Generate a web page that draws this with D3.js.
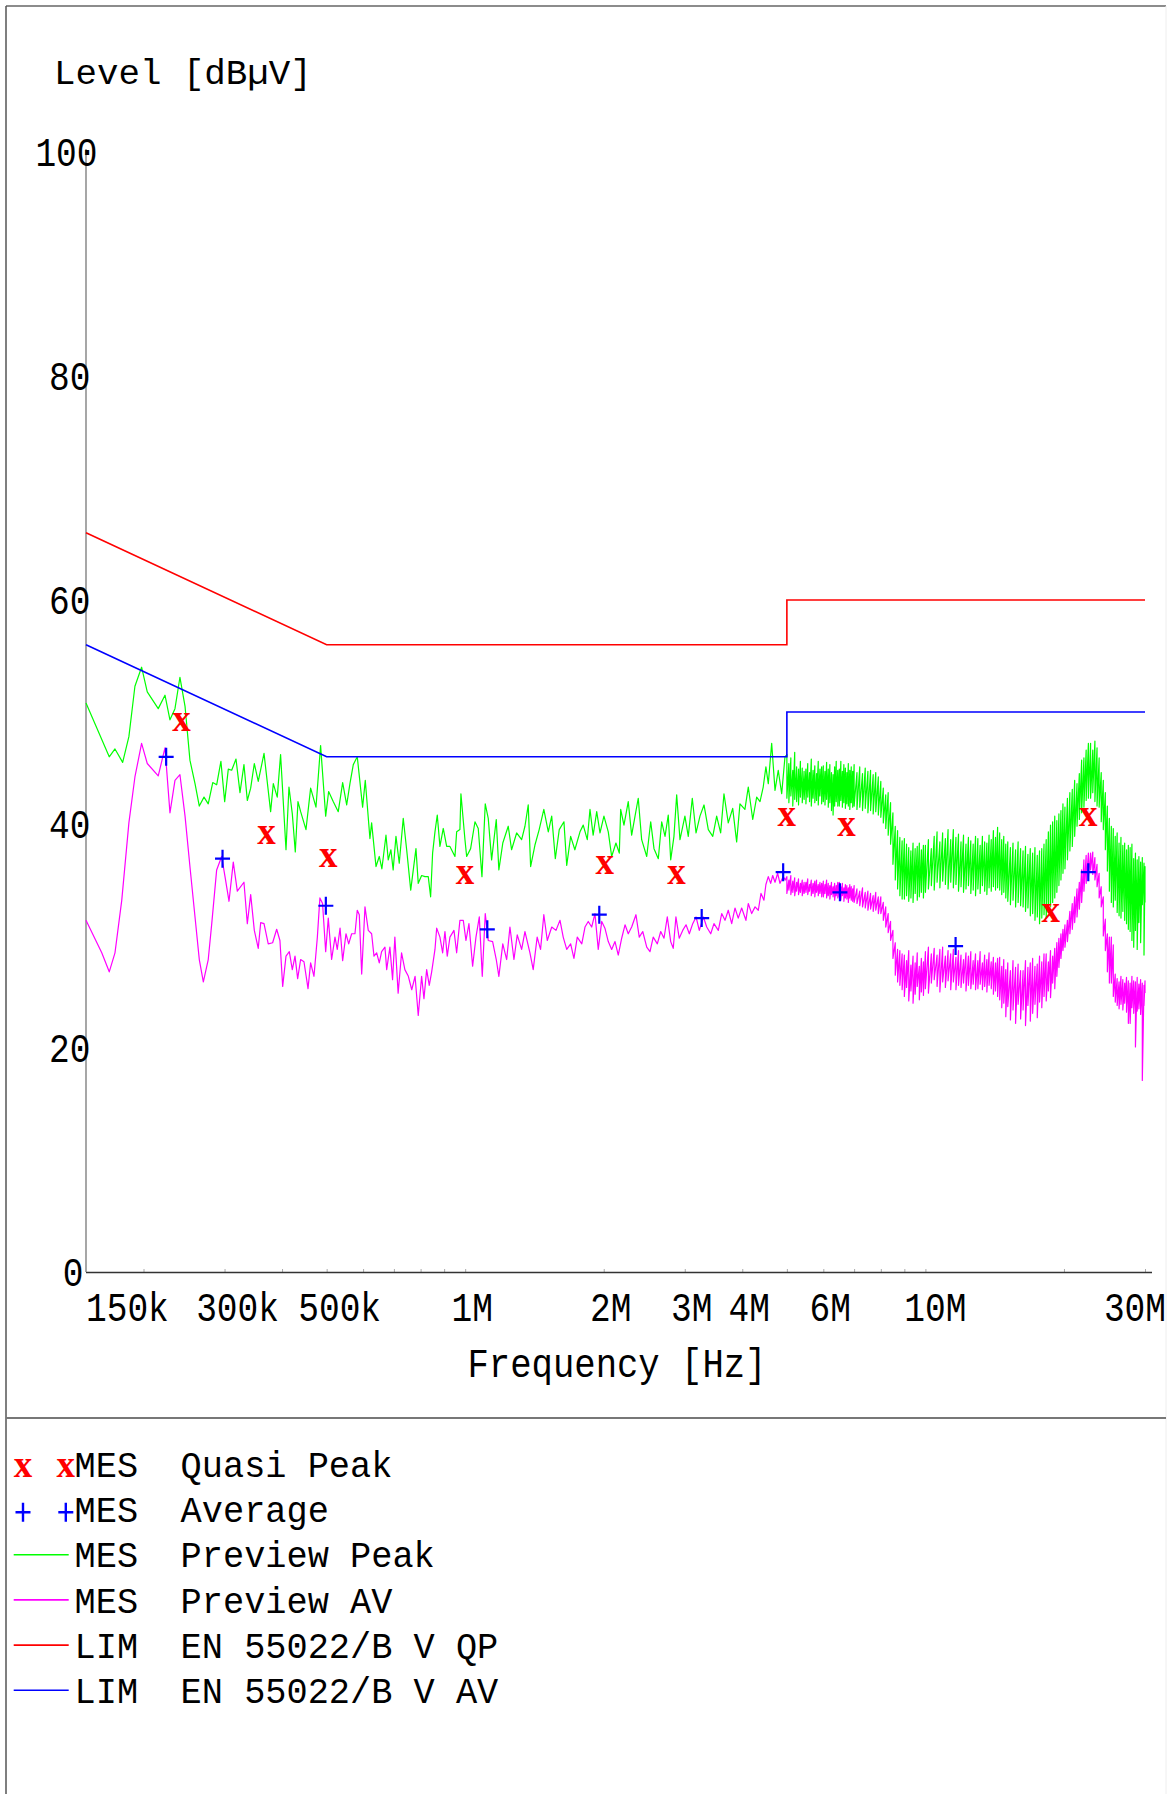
<!DOCTYPE html>
<html><head><meta charset="utf-8">
<script src="https://cdn.jsdelivr.net/npm/d3@7"></script>
<style>
html,body{margin:0;padding:0;background:#fff;}
svg{display:block;}
</style></head>
<body>
<svg id="chart" width="1173" height="1794"></svg>
<script>
// ---------- data ----------
const xTickValues = [0.15, 0.3, 0.5, 1, 2, 3, 4, 6, 10, 30];
const xTickLabels = ["150k", "300k", "500k", "1M", "2M", "3M", "4M", "6M", "10M", "30M"];
const yTickValues = [0, 20, 40, 60, 80, 100];
const minorTicks = [0.2,0.3,0.4,0.5,0.6,0.7,0.8,0.9,1,2,3,4,5,6,7,8,9,10,20,30];

const limitFreq = [0.15, 0.5, 5, 5, 30];
const limitQP = [66, 56, 56, 60, 60];
const limitAV = [56, 46, 46, 50, 50];

const qpFreq = [0.242, 0.370, 0.504, 0.999, 2.01, 2.88, 4.995, 6.74, 18.71, 22.59];
const qpLevel = [49.1, 39.0, 36.9, 35.4, 36.3, 35.4, 40.6, 39.7, 32.0, 40.6];
const avFreq = [0.224, 0.297, 0.498, 1.117, 1.956, 3.265, 4.908, 6.52, 11.63, 22.59];
const avLevel = [46.0, 36.9, 32.7, 30.6, 31.9, 31.6, 35.7, 33.9, 29.1, 35.7];

// Preview Peak, 150 kHz - 5 MHz  [MHz, dBuV]
const peakLow = [[0.150,50.8],[0.1685,46.0],[0.1734,46.7],[0.1802,45.5],[0.1859,47.8],[0.1916,52.3],[0.1981,54.0],[0.2038,51.8],[0.2153,50.3],[0.2227,51.5],[0.2283,49.3],[0.2341,50.3],[0.2400,53.1],[0.2462,50.5],[0.2523,45.7],[0.2588,43.6],[0.2644,41.6],[0.2707,42.4],[0.2765,41.8],[0.2828,43.7],[0.2884,43.5],[0.2946,45.6],[0.3002,42.0],[0.3057,44.9],[0.3109,44.8],[0.3177,45.8],[0.3241,42.8],[0.3306,45.3],[0.3362,42.1],[0.3419,43.2],[0.3482,45.4],[0.3551,43.8],[0.3655,46.3],[0.3778,41.1],[0.3829,43.6],[0.3905,42.4],[0.3971,46.2],[0.4080,37.7],[0.4141,43.3],[0.4211,40.9],[0.4274,37.5],[0.4332,42.0],[0.4390,41.1],[0.4509,39.5],[0.4615,43.2],[0.4740,41.5],[0.4851,47.0],[0.4976,40.7],[0.5050,42.9],[0.5167,42.0],[0.5299,41.1],[0.5417,43.7],[0.5527,41.7],[0.5618,43.6],[0.5713,45.3],[0.5828,46.0],[0.5986,41.5],[0.6066,43.9],[0.6209,38.7],[0.6262,40.1],[0.6400,36.2],[0.6506,37.1],[0.6592,36.0],[0.6728,39.0],[0.6805,36.8],[0.6896,37.7],[0.6974,35.9],[0.7073,38.9],[0.7190,36.5],[0.7335,40.5],[0.7462,37.7],[0.7615,34.1],[0.7817,37.8],[0.7907,34.7],[0.8042,35.4],[0.8177,35.3],[0.8313,35.3],[0.8412,33.5],[0.8496,37.4],[0.8597,39.3],[0.8696,40.8],[0.8813,38.0],[0.8961,39.6],[0.9115,38.0],[0.9265,38.0],[0.9501,37.1],[0.9582,39.3],[0.9740,39.5],[0.9789,42.7],[0.9989,38.6],[1.0074,37.1],[1.0276,37.8],[1.0502,40.2],[1.0675,39.6],[1.0875,35.3],[1.1056,41.8],[1.1223,40.5],[1.1414,36.8],[1.1682,40.4],[1.1835,35.9],[1.2070,38.3],[1.2404,39.8],[1.2613,37.7],[1.2936,39.2],[1.3263,38.6],[1.3485,39.8],[1.3709,41.7],[1.3873,36.2],[1.4173,38.1],[1.4480,39.5],[1.4821,41.3],[1.5156,39.3],[1.5417,40.7],[1.5698,36.9],[1.601,39.5],[1.639,40.2],[1.662,36.3],[1.695,38.9],[1.731,37.7],[1.776,39.3],[1.805,39.9],[1.842,38.6],[1.867,41.3],[1.897,39.0],[1.931,41.1],[1.963,39.2],[2.002,40.7],[2.046,39.3],[2.081,37.1],[2.126,38.3],[2.162,37.4],[2.177,41.3],[2.213,39.9],[2.261,42.0],[2.300,39.0],[2.339,40.7],[2.377,42.3],[2.418,38.6],[2.480,37.1],[2.530,40.2],[2.572,37.8],[2.628,36.9],[2.673,40.2],[2.718,38.9],[2.762,40.8],[2.796,36.8],[2.842,38.9],[2.881,42.6],[2.929,38.6],[3.002,40.7],[3.053,38.9],[3.115,42.3],[3.174,39.2],[3.237,40.7],[3.303,41.7],[3.375,39.5],[3.451,38.9],[3.519,40.7],[3.590,39.2],[3.650,42.7],[3.729,40.1],[3.813,41.4],[3.889,38.4],[3.954,41.8],[4.053,41.3],[4.122,43.3],[4.215,40.4],[4.299,42.4],[4.371,42.0],[4.442,43.3],[4.502,45.1],[4.556,43.6],[4.634,47.2],[4.712,43.0],[4.789,44.8],[4.872,42.7],[4.953,46.0]];

// Preview AV, 150 kHz - 5 MHz  [MHz, dBuV]
const avLow = [[0.150,31.4],[0.1623,28.5],[0.1685,26.8],[0.1734,28.5],[0.1794,33.2],[0.1859,40.1],[0.1916,44.2],[0.1981,47.2],[0.2038,45.4],[0.2153,44.3],[0.2227,46.8],[0.2283,41.0],[0.2341,43.9],[0.2400,44.4],[0.2462,40.7],[0.2523,36.2],[0.2588,31.7],[0.2644,27.9],[0.2698,25.9],[0.2765,27.9],[0.2814,31.1],[0.2884,35.9],[0.2957,37.1],[0.3007,35.3],[0.3068,33.1],[0.3134,36.6],[0.3198,34.0],[0.3306,34.8],[0.3362,31.1],[0.3419,33.7],[0.3482,30.5],[0.3551,28.9],[0.3595,31.2],[0.3655,31.1],[0.3733,29.3],[0.3816,29.4],[0.3894,30.6],[0.3958,29.6],[0.4013,25.5],[0.4080,28.2],[0.4148,28.6],[0.4211,27.0],[0.4268,28.2],[0.4325,26.2],[0.4390,27.9],[0.4464,27.7],[0.4555,25.3],[0.4615,27.6],[0.4693,26.4],[0.4773,29.9],[0.4834,33.4],[0.4899,32.9],[0.4976,28.6],[0.5041,31.6],[0.5126,27.9],[0.5213,29.9],[0.5273,28.8],[0.5347,30.7],[0.5417,27.8],[0.5508,30.2],[0.5583,29.3],[0.5667,30.2],[0.5761,30.2],[0.5828,32.3],[0.5887,31.9],[0.5958,26.6],[0.6057,32.6],[0.6158,30.5],[0.6262,30.2],[0.6336,28.2],[0.6422,28.5],[0.6506,27.6],[0.6583,28.6],[0.6694,29.0],[0.6752,27.0],[0.6862,29.0],[0.6954,26.1],[0.7034,29.9],[0.7150,24.9],[0.7274,28.5],[0.7395,27.0],[0.7525,26.4],[0.7654,25.2],[0.7782,26.4],[0.7907,22.9],[0.8042,26.4],[0.8136,24.4],[0.8247,27.0],[0.8355,25.6],[0.8456,26.8],[0.8597,28.8],[0.8671,30.7],[0.8813,29.9],[0.8934,28.5],[0.9037,30.4],[0.9142,28.2],[0.9265,29.9],[0.9454,30.5],[0.9582,28.5],[0.9740,31.4],[0.9905,31.4],[1.0039,29.6],[1.0190,31.1],[1.0379,27.3],[1.0554,29.9],[1.0732,31.7],[1.0892,26.4],[1.1056,32.0],[1.1223,29.6],[1.1471,29.5],[1.1682,27.9],[1.1835,26.4],[1.2070,29.3],[1.2306,27.9],[1.2510,30.8],[1.2763,27.9],[1.2975,30.1],[1.3263,28.8],[1.3485,30.4],[1.3826,28.5],[1.4054,27.0],[1.4335,29.9],[1.4580,28.8],[1.4821,31.9],[1.508,29.6],[1.542,30.8],[1.575,30.5],[1.607,31.4],[1.633,29.9],[1.662,28.8],[1.695,29.3],[1.723,28.0],[1.752,29.9],[1.792,29.3],[1.821,30.8],[1.851,31.3],[1.883,30.8],[1.914,32.0],[1.946,28.8],[1.980,31.3],[2.012,30.7],[2.046,29.5],[2.081,28.8],[2.116,29.5],[2.151,28.3],[2.188,29.8],[2.225,31.0],[2.261,30.2],[2.300,30.8],[2.350,31.9],[2.389,29.9],[2.431,30.4],[2.480,29.0],[2.521,28.6],[2.562,29.9],[2.615,29.3],[2.660,30.4],[2.704,29.8],[2.749,31.7],[2.796,29.5],[2.832,28.9],[2.870,31.7],[2.918,29.8],[2.969,30.5],[3.019,31.0],[3.069,30.2],[3.122,31.1],[3.174,31.7],[3.226,30.5],[3.293,31.7],[3.348,30.8],[3.416,30.2],[3.472,31.1],[3.548,30.5],[3.609,32.0],[3.669,31.4],[3.729,32.3],[3.794,31.1],[3.857,32.5],[3.920,31.6],[3.988,32.5],[4.074,31.4],[4.122,32.9],[4.193,32.0],[4.264,32.6],[4.334,32.3],[4.393,33.8],[4.458,33.2],[4.502,34.6],[4.556,35.3],[4.611,34.7],[4.658,35.4],[4.712,34.8],[4.775,35.6],[4.830,34.7],[4.909,35.3],[4.960,35.0]];

// sweep 5 MHz - 30 MHz: frequency points (MHz), each with max and min level of the noise
const sweepHigh = [5.00,5.05,5.10,5.15,5.20,5.25,5.30,5.35,5.40,5.45,
5.50,5.55,5.60,5.65,5.70,5.75,5.80,5.85,5.90,5.95,
6.00,6.05,6.10,6.15,6.20,6.25,6.30,6.35,6.40,6.45,
6.50,6.55,6.60,6.65,6.70,6.75,6.80,6.85,6.90,6.95,
7.0,7.1,7.2,7.3,7.4,7.5,7.6,7.7,7.8,7.9,
8.0,8.1,8.2,8.3,8.4,8.5,8.6,8.7,8.8,8.9,
9.0,9.1,9.2,9.3,9.4,9.5,9.6,9.7,9.8,9.9,
10.0,10.15,10.3,10.45,10.6,10.75,10.9,11.05,11.2,11.35,
11.5,11.65,11.8,11.95,12.1,12.25,12.4,12.55,12.7,12.85,
13.0,13.15,13.3,13.45,13.6,13.75,13.9,14.05,14.2,14.35,
14.5,14.65,14.8,14.95,15.1,15.3,15.5,15.7,15.9,16.1,
16.3,16.5,16.7,16.9,17.1,17.3,17.5,17.7,17.9,18.1,
18.3,18.5,18.7,18.9,19.1,19.3,19.5,19.7,19.9,20.1,
20.35,20.6,20.85,21.1,21.35,21.6,21.85,22.1,22.35,22.6,
22.85,23.1,23.35,23.6,23.85,24.1,24.35,24.6,24.85,25.1,
25.35,25.6,25.85,26.1,26.35,26.6,26.85,27.1,27.35,27.6,
27.85,28.1,28.35,28.6,28.85,29.1,29.35,29.6,29.85,30.0];

const peakHighMax = [46.2,45.4,45.9,44.8,46.4,45.1,44.9,45.6,45.0,44.7,
44.9,45.4,44.6,45.8,44.8,45.2,44.5,45.6,44.9,45.1,
45.2,44.7,45.5,44.9,45.3,44.6,44.4,45.1,45.6,44.8,
44.9,45.6,44.7,45.3,45.0,44.6,45.4,44.8,45.1,44.7,
45.3,44.6,45.1,44.5,45.0,44.7,44.8,44.4,44.6,44.2,
43.8,43.2,42.6,42.8,41.9,41.0,39.8,39.4,38.8,38.5,
38.7,38.2,37.9,37.6,38.3,37.8,38.0,38.3,37.7,38.1,
38.1,38.6,37.8,38.9,39.3,38.4,39.2,38.7,39.5,38.6,
39.5,38.8,39.1,38.4,39.0,38.2,38.8,38.5,38.2,38.9,
38.7,38.1,38.9,38.4,38.3,39.0,38.6,39.4,38.8,39.7,
39.2,38.6,38.9,38.2,38.4,37.9,38.3,37.7,38.4,37.8,
37.6,38.0,37.3,37.8,37.4,37.9,37.2,37.6,37.8,38.2,
38.6,39.3,39.9,40.2,40.7,40.3,40.9,41.2,41.8,41.5,
42.3,42.8,43.1,43.9,43.6,44.5,45.7,45.9,46.6,47.2,
47.2,46.6,47.4,46.8,45.9,44.6,43.9,42.8,41.6,40.5,
39.8,39.6,38.9,39.2,38.3,38.8,38.1,38.3,37.7,38.1,
37.9,38.2,36.9,37.4,36.8,37.1,36.6,37.0,36.5,36.2];

const peakHighMin = [42.3,41.9,42.5,41.6,42.2,42.0,41.7,42.4,41.9,42.2,
41.8,42.4,42.0,41.6,42.3,41.9,42.1,41.7,42.5,41.8,
42.0,41.7,42.2,41.5,41.9,41.2,40.8,41.6,42.0,41.6,
41.6,42.1,41.5,41.9,41.4,41.8,41.6,41.3,41.9,41.5,
41.6,41.3,41.5,41.2,41.4,41.0,41.2,40.9,41.1,40.8,
40.6,40.1,39.6,39.0,38.2,36.4,35.0,34.2,33.6,33.3,
33.3,33.6,33.1,33.4,33.0,33.8,33.2,33.5,33.9,33.4,
33.9,34.2,34.5,34.1,34.8,34.3,34.9,34.6,34.2,34.8,
34.3,34.6,34.0,34.4,33.9,34.2,34.5,33.8,34.1,33.6,
34.2,33.8,34.5,34.0,33.7,34.3,34.0,34.4,34.1,34.3,
34.1,33.7,33.9,33.4,33.1,32.8,33.2,32.6,33.0,32.7,
32.6,32.2,32.5,31.8,32.0,31.4,31.7,31.1,31.6,31.9,
31.6,32.1,32.6,33.0,33.4,33.9,34.5,35.0,35.6,36.0,
36.8,37.6,38.0,38.9,39.8,40.4,41.0,41.5,42.1,42.3,
42.3,42.8,42.0,41.6,41.5,40.2,39.5,37.7,35.8,34.0,
33.0,32.6,33.2,32.1,31.8,31.6,32.2,31.4,31.1,30.6,
30.4,29.6,29.0,30.5,28.8,31.2,29.4,32.8,28.3,33.0];

const avHighMax = [35.3,35.0,35.4,34.9,35.2,34.8,35.1,34.7,35.0,34.8,
34.8,35.1,34.6,35.0,34.7,34.9,35.0,34.6,34.8,34.7,
34.9,34.6,35.0,34.7,34.5,34.8,34.4,34.7,34.5,34.8,
34.8,34.4,34.7,34.3,34.6,34.5,34.3,34.6,34.4,34.2,
34.5,34.2,34.0,34.3,33.9,34.0,33.8,33.6,33.9,33.5,
33.5,33.0,32.6,32.0,31.3,30.5,29.4,28.8,28.7,28.4,
28.3,27.8,28.7,27.4,28.2,27.6,28.5,27.3,28.0,27.7,
28.6,29.0,28.4,28.9,28.3,28.8,29.0,28.2,28.7,28.4,
28.8,28.1,28.7,28.3,27.9,28.5,28.2,28.6,27.8,28.4,
27.8,28.6,27.6,28.3,27.9,28.5,27.7,28.1,27.6,28.0,
28.1,27.3,27.9,27.0,27.6,26.9,27.8,27.2,27.5,26.9,
26.9,27.8,27.2,27.6,28.0,27.3,27.5,28.2,27.7,28.4,
28.4,27.7,28.7,28.2,28.9,29.4,29.8,30.2,30.6,31.0,
31.4,32.2,32.9,33.5,34.2,34.8,35.9,36.8,37.2,37.4,
37.4,37.5,37.0,36.4,35.6,34.4,33.5,31.5,30.2,29.9,
29.9,29.2,26.6,26.2,25.9,26.4,26.1,25.8,26.3,26.0,
25.8,26.4,26.0,25.9,26.3,25.7,26.1,25.8,25.6,26.0];

const avHighMin = [33.8,34.1,33.7,33.9,33.6,34.0,33.7,33.9,33.6,33.8,
33.9,33.7,34.0,33.6,33.8,33.5,33.9,33.6,33.8,33.5,
33.5,33.8,33.4,33.6,33.3,33.7,33.5,33.2,33.6,33.4,
33.5,33.2,33.6,33.1,33.4,33.3,33.0,33.4,33.2,33.1,
33.0,32.9,32.7,32.6,32.5,32.3,32.4,32.2,32.3,32.0,
32.0,31.4,30.8,30.3,29.6,28.0,26.5,25.9,25.6,25.2,
24.6,25.4,24.2,25.1,24.0,24.8,25.5,24.3,25.0,24.7,
25.3,24.9,25.8,26.1,25.5,25.0,25.9,25.4,26.0,25.2,
25.9,25.2,25.6,25.4,25.8,25.1,25.6,25.3,25.7,25.2,
25.3,25.7,25.2,25.5,25.0,25.6,25.3,24.8,25.1,24.6,
24.3,23.6,24.0,22.8,23.7,22.5,23.4,22.2,23.9,22.6,
23.4,22.0,23.8,22.4,23.1,23.9,22.7,24.1,23.6,24.6,
24.2,25.1,24.5,25.8,25.3,26.4,27.2,28.0,28.7,29.0,
29.5,30.2,30.6,31.2,31.7,32.4,33.0,34.0,34.7,35.2,
35.9,35.5,35.0,34.4,33.4,32.6,30.0,28.7,26.8,25.8,
25.8,24.6,24.1,23.8,23.5,23.9,23.4,24.0,23.2,22.2,
22.2,23.6,23.1,20.1,23.3,23.5,23.0,17.1,23.8,24.9];

const legendTags = ["MES", "MES", "MES", "MES", "LIM", "LIM"];
const legendTexts = ["Quasi Peak", "Average", "Preview Peak", "Preview AV", "EN 55022/B V QP", "EN 55022/B V AV"];

// ---------- build ----------
const band = (freqs, hi, lo) => freqs.flatMap((f, i) => [[f, hi[i]], [f, lo[i]]]);
const previewPeak = peakLow.concat(band(sweepHigh, peakHighMax, peakHighMin));
const previewAv = avLow.concat(band(sweepHigh, avHighMax, avHighMin));
const qpLimitPts = limitFreq.map((f, i) => [f, limitQP[i]]);
const avLimitPts = limitFreq.map((f, i) => [f, limitAV[i]]);
const qpPts = qpFreq.map((f, i) => [f, qpLevel[i]]);
const avPts = avFreq.map((f, i) => [f, avLevel[i]]);

const RED = "#ff0000", BLUE = "#0000ff", GREEN = "#00ff00", MAGENTA = "#ff00ff";
const MONO = "'Liberation Mono', 'DejaVu Sans Mono', monospace";
const SERIF = "'Liberation Serif', 'DejaVu Serif', serif";

const svg = d3.select("#chart");
const x = d3.scaleLog().domain([0.15, 30]).range([86, 1145]);
const y = d3.scaleLinear().domain([0, 100]).range([1272, 152]);

// frame
svg.append("rect").attr("width", 1173).attr("height", 1794).attr("fill", "#fff");
svg.append("line").attr("x1", 6).attr("y1", 6).attr("x2", 1166).attr("y2", 6).attr("stroke", "#666").attr("stroke-width", 1.5);
svg.append("line").attr("x1", 6).attr("y1", 6).attr("x2", 6).attr("y2", 1794).attr("stroke", "#555").attr("stroke-width", 1.5);
svg.append("line").attr("x1", 1166).attr("y1", 6).attr("x2", 1166).attr("y2", 1794).attr("stroke", "#eee").attr("stroke-width", 1);
svg.append("line").attr("x1", 6).attr("y1", 1418).attr("x2", 1166).attr("y2", 1418).attr("stroke", "#777").attr("stroke-width", 2);

function stext(str, px, py, size, sy, anchor, fam) {
  return svg.append("text")
    .attr("transform", `translate(${px},${py}) scale(1,${sy})`)
    .attr("text-anchor", anchor)
    .style("font-family", fam || MONO)
    .style("font-size", size + "px")
    .attr("fill", "#000")
    .text(str);
}

// axes
const xAxis = svg.append("g").attr("transform", `translate(0,${y(0)})`)
  .call(d3.axisBottom(x).tickValues(minorTicks).tickSize(-3).tickSizeOuter(0).tickFormat(""));
xAxis.select(".domain").remove();
xAxis.selectAll(".tick line").attr("stroke", "#aaa");
svg.append("line").attr("x1", 86).attr("x2", 1152).attr("y1", y(0) + 0.5).attr("y2", y(0) + 0.5)
  .attr("stroke", "#333").attr("stroke-width", 1.5);
svg.append("line").attr("x1", 86).attr("x2", 86).attr("y1", y(100) - 3).attr("y2", y(0))
  .attr("stroke", "#777").attr("stroke-width", 1.3);

xTickValues.forEach((v, i) => {
  const lab = xTickLabels[i];
  if (i === 0) stext(lab, x(v), 1321, 34.5, 1.16, "start");
  else if (i === xTickValues.length - 1) stext(lab, 1166, 1321, 34.5, 1.16, "end");
  else stext(lab, x(v) + 3 * lab.length + 1, 1321, 34.5, 1.16, "middle");
});
yTickValues.forEach(v => {
  const lab = String(v);
  stext(lab, 76.5 + 7 * lab.length, y(v) + 13.5, 34.5, 1.16, "end");
});
stext("Level [dBµV]", 54, 84, 35.8, 1, "start");
stext("Frequency [Hz]", 617, 1377, 35.6, 1.13, "middle");

// traces
const line = d3.line().x(d => x(d[0])).y(d => y(d[1]));
svg.append("path").datum(previewPeak).attr("d", line).attr("fill", "none").attr("stroke", GREEN).attr("stroke-width", 1.2).attr("stroke-linejoin", "round");
svg.append("path").datum(previewAv).attr("d", line).attr("fill", "none").attr("stroke", MAGENTA).attr("stroke-width", 1.2).attr("stroke-linejoin", "round");
svg.append("path").datum(qpLimitPts).attr("d", line).attr("fill", "none").attr("stroke", RED).attr("stroke-width", 1.6);
svg.append("path").datum(avLimitPts).attr("d", line).attr("fill", "none").attr("stroke", BLUE).attr("stroke-width", 1.6);

// markers
svg.append("g").selectAll("text").data(qpPts).join("text")
  .attr("x", d => x(d[0])).attr("y", d => y(d[1]) + 8.5)
  .attr("text-anchor", "middle").style("font-family", SERIF).style("font-size", "37px")
  .style("font-weight", "bold").attr("fill", RED).text("x");
svg.append("g").selectAll("path").data(avPts).join("path")
  .attr("d", d => { const cx = x(d[0]), cy = y(d[1]); return `M${cx - 7.5},${cy}H${cx + 7.5}M${cx},${cy - 9}V${cy + 9}`; })
  .attr("stroke", BLUE).attr("stroke-width", 2.2).attr("fill", "none");

// legend
const col = c => 11 + c * 21.2;
const rowY = i => 1477 + i * 45.2;
legendTags.forEach((t, i) => {
  stext(t, col(3), rowY(i), 35.3, 1.07, "start");
  stext(legendTexts[i], col(8), rowY(i), 35.3, 1.07, "start");
});
[col(0) + 12, col(2) + 12.4].forEach(cx => {
  svg.append("text").attr("x", cx).attr("y", rowY(0)).attr("text-anchor", "middle")
    .style("font-family", SERIF).style("font-size", "37px").style("font-weight", "bold")
    .attr("fill", RED).text("x");
  const cy = rowY(1) - 10;
  svg.append("path").attr("d", `M${cx - 7.5},${cy}H${cx + 7.5}M${cx},${cy - 9.5}V${cy + 9.5}`)
    .attr("stroke", BLUE).attr("stroke-width", 2.4);
});
[GREEN, MAGENTA, RED, BLUE].forEach((c, k) => {
  const yy = rowY(k + 2) - 12.7;
  svg.append("line").attr("x1", 13.7).attr("x2", 68.7).attr("y1", yy).attr("y2", yy).attr("stroke", c).attr("stroke-width", 1.6);
});
</script>
</body></html>
